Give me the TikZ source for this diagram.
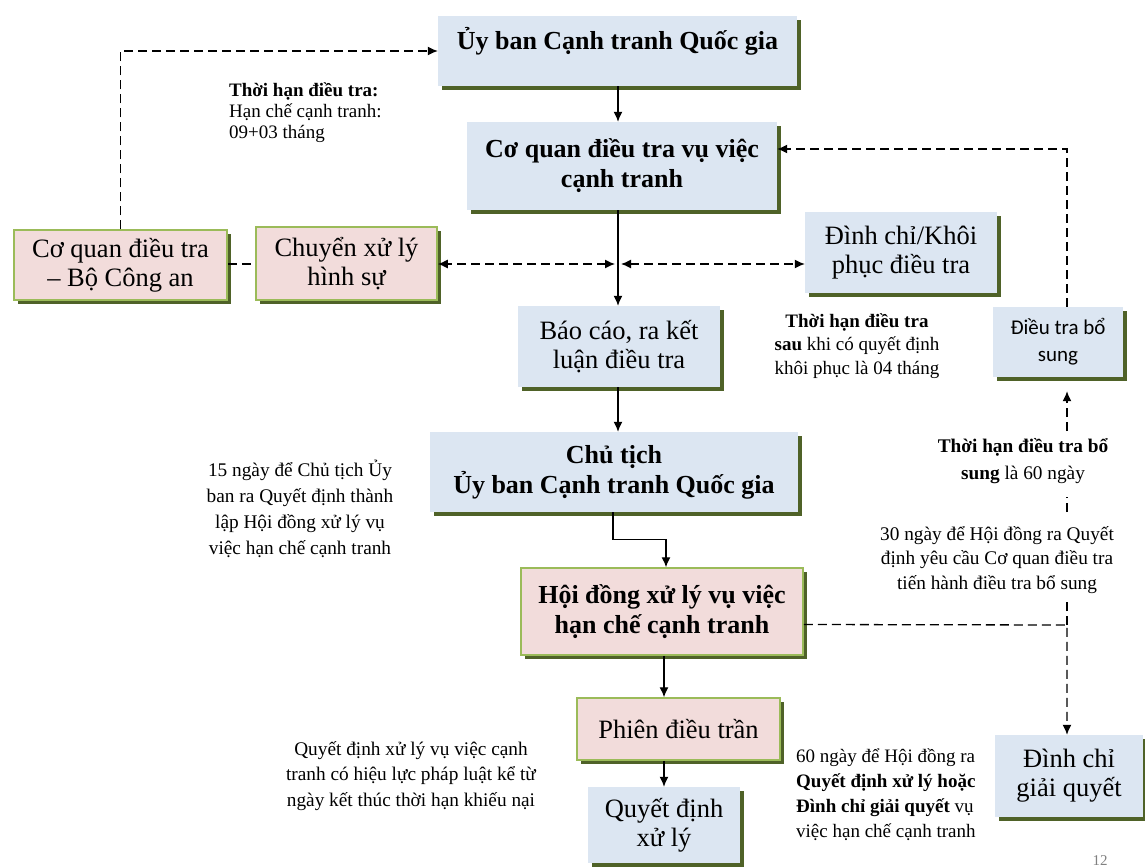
\documentclass[tikz,border=0pt]{standalone}
\usepackage{fontspec}
\setmainfont{Liberation Serif}
\newfontfamily\carlito{Carlito}
\usetikzlibrary{arrows.meta,shadows}
\definecolor{boxblue}{HTML}{DCE6F2}
\definecolor{boxpink}{HTML}{F2DCDB}
\definecolor{shgreen}{HTML}{4F6228}
\definecolor{bordgreen}{HTML}{9BBB59}
\begin{document}
\begin{tikzpicture}[x=1pt,y=-1pt,
 box/.style={rectangle, inner sep=0pt, align=center, font=\fontsize{26.5}{29}\selectfont,
   general shadow={fill=shgreen, shadow xshift=4pt, shadow yshift=-4pt}},
 boldbox/.style={box, font=\fontsize{26}{30}\selectfont\bfseries},
 blue/.style={fill=boxblue},
 pink/.style={fill=boxpink, draw=bordgreen, line width=1.5pt},
 note/.style={inner sep=1pt, font=\fontsize{19.3}{24}\selectfont, align=center},
 tip/.tip={Latex[length=10pt,width=9pt]},
 solidarrow/.style={line width=1.3pt, -tip},
 dashline/.style={line width=1.3pt, dash pattern=on 9pt off 5pt},
 dasharrow/.style={dashline, -tip},
 dbldash/.style={dashline, tip-tip},
]
\useasboundingbox (0,0) rectangle (1145,867);

% boxes
\node[boldbox, blue, minimum width=359, minimum height=70, text height=18pt, text depth=22pt] (uyban) at (617.5,51) {Ủy ban Cạnh tranh Quốc gia};
\node[boldbox, blue, minimum width=310, minimum height=88] (cqdt) at (622,166) {Cơ quan điều tra vụ việc\\cạnh tranh};
\node[box, pink, minimum width=213, minimum height=70] (bca) at (120.5,265) {Cơ quan điều tra\\– Bộ Công an};
\node[box, pink, minimum width=181, minimum height=73] (chuyen) at (346.5,263.5) {Chuyển xử lý\\hình sự};
\node[box, blue, minimum width=192, minimum height=81] (dinhchi) at (901,252.5) {Đình chỉ/Khôi\\phục điều tra};
\node[box, blue, minimum width=202, minimum height=81] (baocao) at (619,346.5) {Báo cáo, ra kết\\luận điều tra};
\node[boldbox, blue, minimum width=368, minimum height=80] (chutich) at (614,472) {Chủ tịch\\Ủy ban Cạnh tranh Quốc gia};
\node[boldbox, pink, minimum width=282, minimum height=87] (hoidong) at (662,611.5) {Hội đồng xử lý vụ việc\\hạn chế cạnh tranh};
\node[box, pink, minimum width=203, minimum height=62] (phien) at (678.5,729) {Phiên điều trần};
\node[box, blue, minimum width=152, minimum height=76] (quyetdinh) at (664,825) {Quyết định\\xử lý};
\node[box, blue, minimum width=130, minimum height=70, font=\carlito\fontsize{21}{27}\selectfont] (dtbs) at (1058,342) {Điều tra bổ\\sung};
\node[box, blue, minimum width=148, minimum height=82] (dcgq) at (1069,776) {Đình chỉ\\giải quyết};

% coordinates
\coordinate (j) at (618,264);
\coordinate (corner) at (1067,625);

% notes
\node[note, align=left, anchor=north west, font=\fontsize{19}{21}\selectfont] (n1) at (228,81) {\textbf{Thời hạn điều tra:}\\Hạn chế cạnh tranh:\\09+03 tháng};
\node[note, font=\fontsize{19}{23.5}\selectfont] (n2) at (857,346) {\textbf{Thời hạn điều tra}\\\textbf{sau} khi có quyết định\\khôi phục là 04 tháng};
\node[note, font=\fontsize{19.3}{26}\selectfont] (n3) at (300,509) {15 ngày để Chủ tịch Ủy\\ban ra Quyết định thành\\lập Hội đồng xử lý vụ\\việc hạn chế cạnh tranh};
\node[note, font=\fontsize{19.3}{27}\selectfont] (n4) at (1023,461) {\textbf{Thời hạn điều tra bổ}\\\textbf{sung} là 60 ngày};
\node[note, font=\fontsize{19.3}{24.5}\selectfont] (n5) at (997,560) {30 ngày để Hội đồng ra Quyết\\định yêu cầu Cơ quan điều tra\\tiến hành điều tra bổ sung};
\node[note, font=\fontsize{19.3}{25.5}\selectfont] (n6) at (411,776) {Quyết định xử lý vụ việc cạnh\\tranh có hiệu lực pháp luật kể từ\\ngày kết thúc thời hạn khiếu nại};
\node[note, align=left, anchor=north west, font=\fontsize{19}{25}\selectfont] (n7) at (795,748) {60 ngày để Hội đồng ra\\\textbf{Quyết định xử lý hoặc}\\\textbf{Đình chỉ giải quyết} vụ\\việc hạn chế cạnh tranh};
\node[font=\fontsize{15}{15}\selectfont, text=gray, anchor=south, inner sep=0pt] (page) at (1100,866) {12};

% connectors
\draw[dasharrow] (bca.north) |- (uyban.west);
\draw[solidarrow] (uyban.south -| j) -- (cqdt.north -| j);
\draw[solidarrow] (cqdt.south -| j) -- (baocao.north -| j);
\draw[dashline] (bca.east |- j) -- (chuyen.west |- j);
\draw[dbldash] ([xshift=-3pt]j) -- (chuyen.east |- j);
\draw[dbldash] ([xshift=3pt]j) -- (dinhchi.west |- j);
\draw[solidarrow] (baocao.south -| j) -- (chutich.north -| j);
\draw[solidarrow] ([xshift=-1pt]chutich.south) -- ++(0,27) -| ([xshift=4pt]hoidong.north);
\draw[solidarrow] ([xshift=2pt]hoidong.south) -- (phien.north -| quyetdinh.north);
\draw[solidarrow] (phien.south -| quyetdinh.north) -- (quyetdinh.north);
\draw[dasharrow] ([yshift=-13pt]hoidong.east) -- (corner) -- (corner |- dcgq.north);
\draw[dashline, shorten >=5pt] (corner) -- (corner |- n5.south);
\draw[dashline, shorten <=13pt, shorten >=12pt] (corner |- n5.north) -- (corner |- n4.south);
\draw[dasharrow, shorten <=6pt, shorten >=14pt] (corner |- n4.north) -- (corner |- dtbs.south);
\draw[dasharrow] (corner |- dtbs.north) |- ([yshift=17pt]cqdt.east);
\end{tikzpicture}
\end{document}
